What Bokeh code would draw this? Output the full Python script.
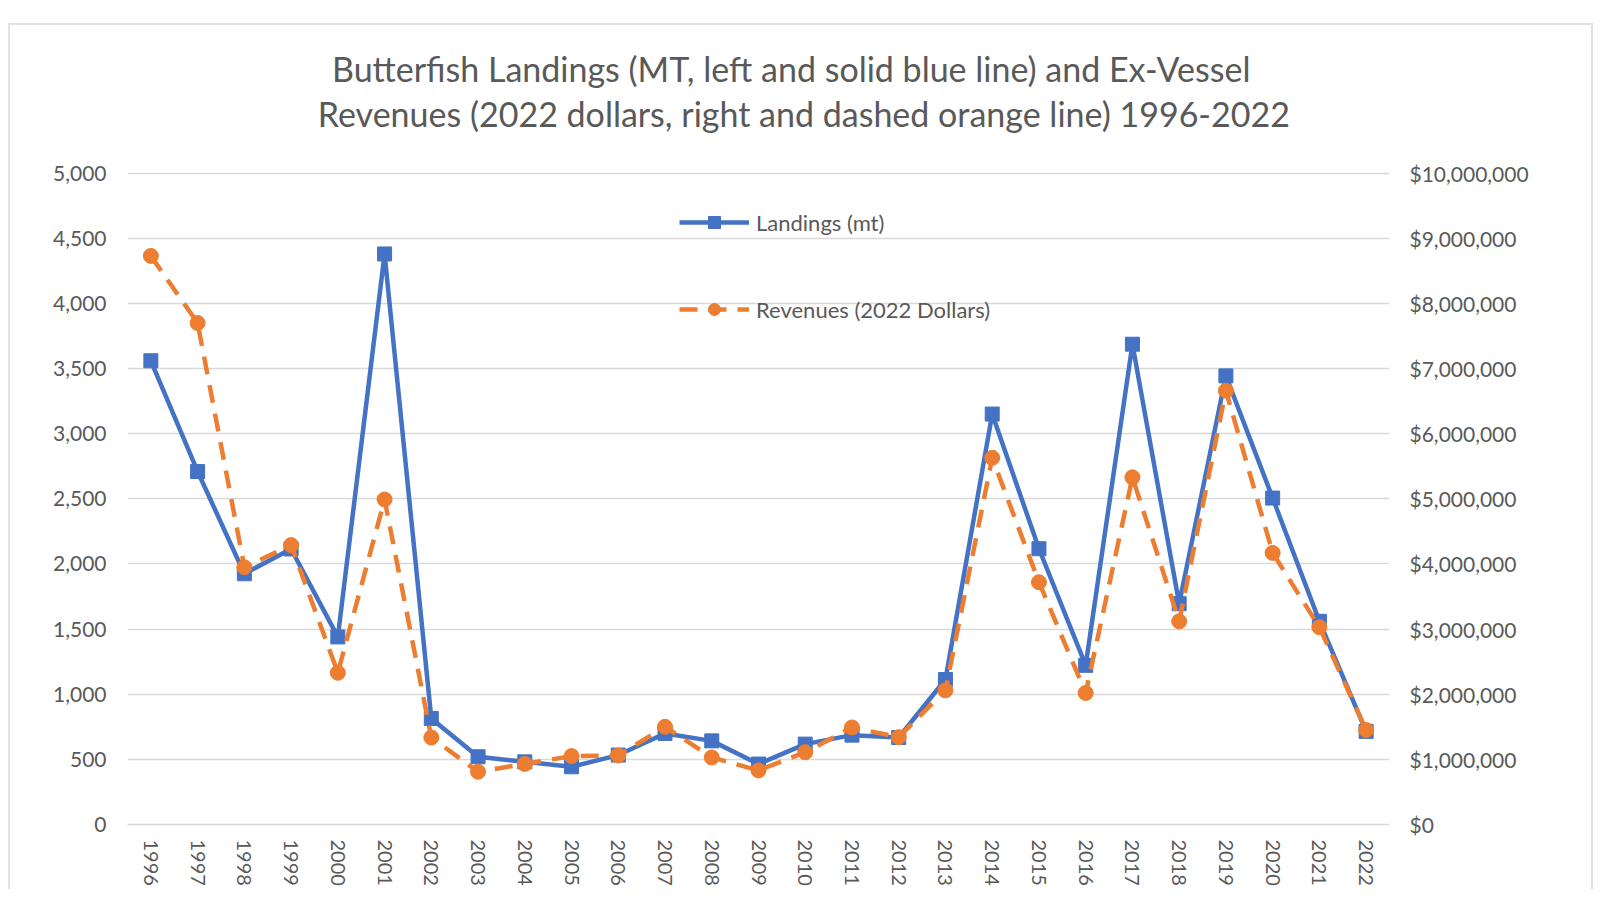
from bokeh.plotting import figure
from bokeh.models import (Range1d, LinearAxis, FixedTicker, NumeralTickFormatter,
                          FactorRange, Legend, LegendItem, Label)
from bokeh.embed import file_html
from bokeh.resources import INLINE

years = [str(y) for y in range(1996, 2023)]
landings_mt = [3560, 2710, 1925, 2115, 1440, 4380, 814, 520, 481, 443, 533, 699, 642, 464,
               617, 686, 668, 1113, 3151, 2117, 1222, 3687, 1695, 3444, 2506, 1560, 715]
revenues_musd = [8.73, 7.70, 3.95, 4.29, 2.33, 4.99, 1.335, 0.81, 0.93, 1.05, 1.06, 1.50, 1.03, 0.83,
                 1.11, 1.49, 1.34, 2.06, 5.63, 3.72, 2.02, 5.33, 3.12, 6.66, 4.17, 3.03, 1.45]
revenues = [v * 1_000_000 for v in revenues_musd]

left_ticks = list(range(0, 5001, 500))
right_ticks = list(range(0, 10_000_001, 1_000_000))

title_lines = ["Butterfish Landings (MT, left and solid blue line) and Ex-Vessel",
               "Revenues (2022 dollars, right and dashed orange line) 1996-2022"]

FONT = "Lato"
TXT = "#595959"
GRID = "#d9d9d9"
BLUE = "#4472C4"
ORANGE = "#ED7D31"

# the frame extends above the 5,000 line to hold the two-line title
Y_TOP = 6057
p = figure(width=1585, height=866, x_range=FactorRange(*years), y_range=Range1d(0, Y_TOP),
           output_backend="svg", toolbar_location=None,
           min_border_left=117, min_border_right=206, min_border_top=10, min_border_bottom=67)
p.title = None
p.margin = (23, 0, 0, 8)
p.styles = {"border-top": "2px solid #e2e2e2", "border-left": "2px solid #e2e2e2",
            "border-right": "2px solid #e2e2e2"}
p.outline_line_color = None
p.background_fill_color = "white"
p.border_fill_color = "white"
p.extra_y_ranges = {"rev": Range1d(0, Y_TOP * 2000)}

# axes
ly = p.yaxis[0]
ly.ticker = FixedTicker(ticks=left_ticks)
ly.formatter = NumeralTickFormatter(format="0,0")
ly.major_label_standoff = 21
rax = LinearAxis(y_range_name="rev", ticker=FixedTicker(ticks=right_ticks),
                 formatter=NumeralTickFormatter(format="$0,0"))
rax.major_label_standoff = 20
p.add_layout(rax, "right")
for ax in (ly, rax):
    ax.axis_line_color = None
    ax.major_tick_line_color = None
    ax.minor_tick_line_color = None
    ax.major_tick_out = 0
    ax.major_tick_in = 0
    ax.major_label_text_font = FONT
    ax.major_label_text_font_size = "21px"
    ax.major_label_text_color = TXT

xa = p.xaxis[0]
xa.axis_line_color = GRID
xa.axis_line_width = 1.3
xa.major_tick_line_color = None
xa.minor_tick_line_color = None
xa.major_tick_out = 0
xa.major_tick_in = 0
xa.major_label_orientation = "vertical"
xa.major_label_text_font = FONT
xa.major_label_text_font_size = "20px"
xa.major_label_text_color = TXT
xa.major_label_standoff = 15

p.xgrid.grid_line_color = None
p.ygrid.grid_line_color = GRID
p.ygrid.grid_line_width = 1.3

# series
bl = p.line(years, landings_mt, line_color=BLUE, line_width=4.5)
bs = p.scatter(years, landings_mt, marker="square", size=14, fill_color=BLUE, line_color=BLUE)
ol = p.line(years, revenues, y_range_name="rev", line_color=ORANGE, line_width=4.5,
            line_dash="18 11")
os_ = p.scatter(years, revenues, y_range_name="rev", marker="circle", size=15,
                fill_color=ORANGE, line_color=ORANGE)

legend = Legend(items=[LegendItem(label="Landings (mt)", renderers=[bl, bs]),
                       LegendItem(label="Revenues (2022 Dollars)", renderers=[ol, os_])],
                location=(552, 500), orientation="vertical")
legend.border_line_color = None
legend.background_fill_alpha = 0
legend.label_text_font = FONT
legend.label_text_font_size = "22px"
legend.label_text_color = TXT
legend.glyph_width = 70
legend.glyph_height = 30
legend.label_height = 30
legend.spacing = 57
legend.padding = 10
legend.label_standoff = 7
p.add_layout(legend, "center")

# title
p.add_layout(Label(x=14.2, y=5800, text=title_lines[0], text_align="center",
                   text_baseline="middle", text_font=FONT, text_font_size="34px",
                   text_color=TXT))
p.add_layout(Label(x=14.47, y=5462, text=title_lines[1], text_align="center",
                   text_baseline="middle", text_font=FONT, text_font_size="34px",
                   text_color=TXT))

open("out.html", "w").write(file_html(p, INLINE))
